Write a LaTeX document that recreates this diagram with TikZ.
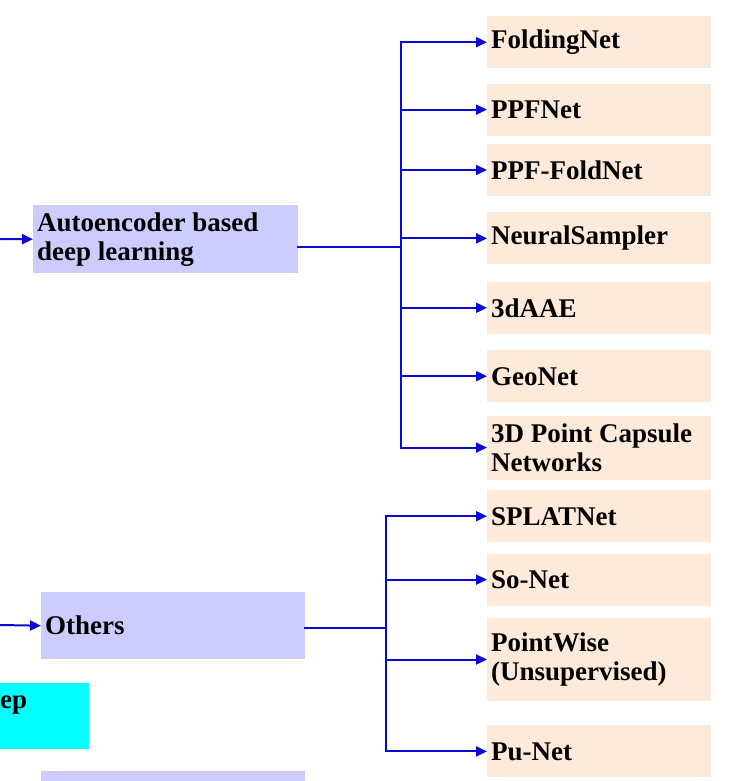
\documentclass[tikz,border=0pt]{standalone}
\usepackage{fontspec}
\setmainfont{Liberation Serif}
\usetikzlibrary{positioning,arrows.meta}

\definecolor{linkblue}{RGB}{10,10,215}
\definecolor{groupfill}{RGB}{204,204,255}
\definecolor{methodfill}{RGB}{253,234,218}
\definecolor{deepfill}{RGB}{0,255,255}

\tikzset{
	treepicture/.style = {
		x = 1pt,
		y = -1pt,
		font = \fontsize{27}{29}\selectfont\bfseries,
		arrow/.style = {
			draw = linkblue,
			line width = 2pt,
			-{Triangle[length=11pt, width=10pt]},
		},
		branch/.style = {
			draw = linkblue,
			line width = 2pt,
			line cap = rect,
		}
	},
	groupnode/.style = {
		fill = groupfill,
		anchor = north west,
		inner xsep = 4pt,
		inner ysep = 0pt,
		text width = 257pt,
		align = flush left,
		minimum height = 68pt
	},
	methodnode/.style = {
		fill = methodfill,
		anchor = north west,
		inner xsep = 4pt,
		inner ysep = 0pt,
		text width = 216pt,
		align = flush left,
		minimum height = 52pt
	},
	deepnode/.style = {
		fill = deepfill,
		anchor = north west,
		inner sep = 0pt,
		text width = 89pt,
		align = flush left,
		minimum height = 66pt
	}
}

\begin{document}
\begin{tikzpicture}[treepicture]
	\useasboundingbox (0,0) rectangle (733,781);

	\node[groupnode] (AE) at (33,205) {Autoencoder based\\deep learning};
	\node[groupnode, text width = 256pt, minimum height = 67pt] (OT) at (41,592) {Others};
	\node[deepnode] (DL) at (0,683) {ep\\~};
	\node[groupnode, text width = 256pt, minimum height = 10pt] (NG) at (41,771) {};

	\node[methodnode] (FN) at (487,16) {FoldingNet};
	\node[methodnode, below = 15pt of FN] (PN) {PPFNet};
	\node[methodnode, below = 8pt of PN] (PF) {PPF-FoldNet};
	\node[methodnode, below = 16pt of PF] (NS) {NeuralSampler};
	\node[methodnode, below = 17pt of NS] (AA) {3dAAE};
	\node[methodnode, below = 16pt of AA] (GN) {GeoNet};
	\node[methodnode, below = 13pt of GN, minimum height = 64pt] (PC) {3D Point Capsule\\Networks};

	\node[methodnode] (SN) at (487,490) {SPLATNet};
	\node[methodnode, below = 11pt of SN] (SO) {So-Net};
	\node[methodnode, below = 12pt of SO, minimum height = 83pt] (PW) {PointWise\\(Unsupervised)};
	\node[methodnode, below = 24pt of PW] (PU) {Pu-Net};

	\coordinate (inAE) at (0,239);
	\coordinate (inOT) at (0,625);
	\coordinate (trunkAE) at (401,247);
	\coordinate (trunkOT) at (386,628);

	\begin{scope}[every path/.style = branch]
		\path (AE.east |- trunkAE) -- (trunkAE);
		\path (trunkAE |- FN.west) -- (trunkAE |- PC.west);
		\path (OT.east |- trunkOT) -- (trunkOT);
		\path (trunkOT |- SN.west) -- (trunkOT |- PU.west);
	\end{scope}

	\begin{scope}[every path/.style = arrow]
		\path (inAE) -- (AE.west);
		\path (inOT) -- (OT.west);
		\foreach \m in {FN, PN, PF, NS, AA, GN, PC}
			\path (trunkAE |- \m.west) -- (\m.west);
		\foreach \m in {SN, SO, PW, PU}
			\path (trunkOT |- \m.west) -- (\m.west);
	\end{scope}
\end{tikzpicture}
\end{document}
